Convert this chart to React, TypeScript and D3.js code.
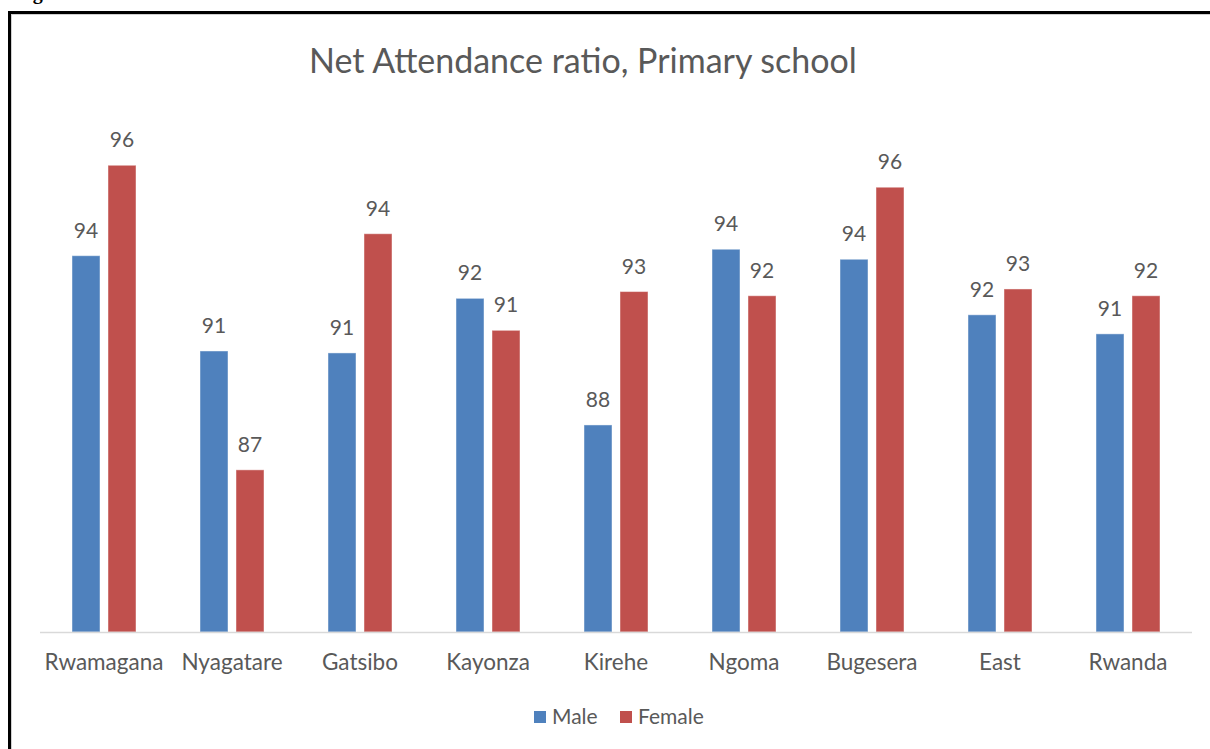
import React from "react";
import * as d3 from "d3";

const categories = ["Rwamagana", "Nyagatare", "Gatsibo", "Kayonza", "Kirehe", "Ngoma", "Bugesera", "East", "Rwanda"];
const seriesNames = ["Male", "Female"];
const maleValues = [93.65, 90.7, 90.64, 92.33, 88.41, 93.85, 93.54, 91.82, 91.23];
const femaleValues = [96.45, 87.02, 94.33, 91.34, 92.54, 92.41, 95.77, 92.62, 92.41];
const colors = ["#4F81BD", "#C0504D"];
const title = "Net Attendance ratio, Primary school";

const W = 1210;
const H = 749;
const FONT = "Lato, 'Open Sans', sans-serif";
const TEXT = "#595959";

export default function App() {
  const x0 = d3.scaleBand<string>().domain(categories).range([40, 1192]).paddingInner(0.5).paddingOuter(0.25);
  const x1 = d3.scaleBand<string>().domain(seriesNames).range([0, x0.bandwidth()]).paddingInner(8 / 36).paddingOuter(0);
  const y = d3.scaleLinear().domain([82, 98]).range([632, 632 - 16 * 32.3]);
  const series = [maleValues, femaleValues];
  const fmt = d3.format(".0f");

  return (
    <svg
      width={W}
      height={H}
      style={{ position: "absolute", left: 0, top: 0, background: "#fff" }}
    >
      <text x={15} y={-1} fontFamily="'Liberation Serif', serif" fontWeight="bold" fontSize={20} fill="#000">
        Figure
      </text>
      <rect x={9.5} y={12.5} width={1300} height={800} fill="#fff" stroke="#000" strokeWidth={3} />
      <line x1={11} x2={1300} y1={14.5} y2={14.5} stroke="#d0d0d0" strokeWidth={1} />
      <line x1={11.5} x2={11.5} y1={14} y2={800} stroke="#d0d0d0" strokeWidth={1} />

      <text x={583} y={73} textAnchor="middle" fontFamily={FONT} fontSize={34} fill={TEXT}>
        {title}
      </text>

      {categories.map((c, i) => (
        <g key={c} transform={`translate(${x0(c)},0)`}>
          {seriesNames.map((s, j) => {
            const v = series[j][i];
            const bx = x1(s)!;
            return (
              <g key={s}>
                <rect
                  x={bx}
                  y={y(v)}
                  width={x1.bandwidth()}
                  height={y(82) - y(v)}
                  fill={colors[j]}
                  stroke="rgba(255,255,255,0.45)"
                  strokeWidth={1}
                />
                <text
                  x={bx + x1.bandwidth() / 2}
                  y={y(v) - 18}
                  textAnchor="middle"
                  fontFamily={FONT}
                  fontSize={21}
                  fill={TEXT}
                >
                  {fmt(v)}
                </text>
              </g>
            );
          })}
        </g>
      ))}

      <line x1={40} x2={1192} y1={632.5} y2={632.5} stroke="#d9d9d9" strokeWidth={1.5} />

      {categories.map((c) => (
        <text
          key={c}
          x={x0(c)! + x0.bandwidth() / 2}
          y={670}
          textAnchor="middle"
          fontFamily={FONT}
          fontSize={22.5}
          fill={TEXT}
        >
          {c}
        </text>
      ))}

      <g>
        <rect x={534} y={711} width={12} height={12} fill={colors[0]} />
        <text x={552} y={724} fontFamily={FONT} fontSize={21} fill={TEXT}>
          {seriesNames[0]}
        </text>
        <rect x={620} y={711} width={12} height={12} fill={colors[1]} />
        <text x={638} y={724} fontFamily={FONT} fontSize={21} fill={TEXT}>
          {seriesNames[1]}
        </text>
      </g>
    </svg>
  );
}
